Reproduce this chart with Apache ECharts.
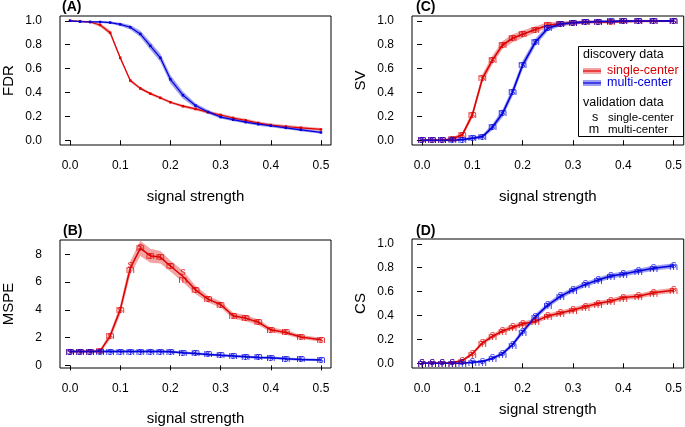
<!DOCTYPE html>
<html>
<head>
<meta charset="utf-8">
<script src="https://cdn.jsdelivr.net/npm/echarts@6/dist/echarts.min.js"></script>
<style>html,body{margin:0;padding:0;background:#fff}#c{width:685px;height:427px}</style>
</head>
<body>
<div id="c"></div>
<script>
// ---- data ----
const xs = [0,0.02,0.04,0.06,0.08,0.1,0.12,0.14,0.16,0.18,0.2,0.225,0.25,0.275,0.3,0.325,0.35,0.375,0.4,0.43,0.46,0.5];
const xTicks = [0,0.1,0.2,0.3,0.4,0.5];
const unitTicks = [0,0.2,0.4,0.6,0.8,1.0];
const mspeTicks = [0,2,4,6,8];

// (A) FDR
const fdrSingle     = [1.0,0.995,0.99,0.965,0.90,0.69,0.50,0.434,0.39,0.355,0.318,0.285,0.262,0.234,0.211,0.186,0.166,0.144,0.127,0.115,0.104,0.09];
const fdrSingleBand = [0.003,0.005,0.008,0.015,0.02,0.018,0.015,0.012,0.011,0.011,0.011,0.012,0.013,0.013,0.013,0.013,0.013,0.013,0.013,0.013,0.013,0.013];
const fdrMulti      = [1.0,0.993,0.99,0.99,0.985,0.97,0.946,0.89,0.79,0.69,0.51,0.377,0.29,0.237,0.194,0.172,0.152,0.135,0.121,0.104,0.087,0.065];
const fdrMultiBand  = [0.003,0.005,0.006,0.008,0.01,0.013,0.018,0.026,0.032,0.034,0.036,0.03,0.02,0.015,0.013,0.013,0.013,0.013,0.013,0.012,0.011,0.01];

// (B) MSPE
const mspeSingle     = [1.0,1.0,1.0,1.03,2.13,4.0,7.0,8.43,7.9,7.78,7.16,6.4,5.44,4.77,4.38,3.57,3.4,3.11,2.56,2.37,2.04,1.84];
const mspeSingleS    = [1.0,1.0,1.0,1.03,2.13,4.0,7.2,8.5,7.9,7.78,7.16,6.7,5.44,4.77,4.38,3.57,3.4,3.11,2.56,2.37,2.04,1.84];
const mspeSingleM    = [1.0,1.0,1.0,1.03,2.13,4.0,6.87,8.43,7.9,7.78,7.16,6.15,5.44,4.77,4.38,3.57,3.4,3.11,2.56,2.37,2.04,1.84];
const mspeSingleBand = [0.06,0.06,0.06,0.12,0.25,0.35,0.5,0.55,0.5,0.45,0.4,0.42,0.3,0.25,0.22,0.22,0.22,0.2,0.18,0.17,0.15,0.14];
const mspeMulti      = [1.0,1.0,1.0,1.0,1.0,1.0,1.0,1.0,1.0,1.0,0.98,0.91,0.86,0.79,0.72,0.67,0.62,0.57,0.55,0.48,0.43,0.38];
const mspeMultiBand  = [0.09,0.09,0.09,0.09,0.09,0.09,0.09,0.09,0.09,0.09,0.09,0.09,0.09,0.09,0.09,0.09,0.09,0.09,0.09,0.09,0.09,0.09];

// (C) SV
const svSingle     = [0,0,0,0.01,0.045,0.214,0.518,0.673,0.797,0.854,0.887,0.927,0.963,0.975,0.983,0.989,0.99,0.99,0.995,0.996,0.997,0.998];
const svSingleBand = [0.008,0.008,0.009,0.012,0.02,0.03,0.036,0.036,0.034,0.033,0.032,0.028,0.024,0.019,0.016,0.014,0.013,0.012,0.011,0.01,0.009,0.008];
const svMulti      = [0,0,0,0,0.005,0.017,0.03,0.11,0.225,0.406,0.631,0.82,0.938,0.972,0.983,0.989,0.994,0.995,0.997,0.998,0.998,0.999];
const svMultiBand  = [0.008,0.008,0.008,0.009,0.01,0.012,0.016,0.025,0.032,0.035,0.036,0.032,0.024,0.017,0.013,0.011,0.01,0.01,0.009,0.009,0.008,0.008];

// (D) CS
const csSingle     = [0,0,0,0.005,0.022,0.08,0.17,0.225,0.27,0.30,0.33,0.35,0.396,0.42,0.445,0.475,0.50,0.52,0.55,0.56,0.59,0.61];
const csSingleBand = [0.006,0.006,0.006,0.008,0.012,0.015,0.018,0.02,0.02,0.02,0.021,0.021,0.021,0.021,0.021,0.021,0.021,0.021,0.021,0.021,0.021,0.021];
const csMulti      = [0,0,0,0,0,0.008,0.014,0.042,0.08,0.157,0.264,0.388,0.486,0.56,0.615,0.66,0.697,0.73,0.747,0.772,0.795,0.817];
const csMultiBand  = [0.006,0.006,0.006,0.006,0.006,0.008,0.01,0.013,0.016,0.019,0.022,0.022,0.022,0.022,0.021,0.021,0.021,0.021,0.021,0.021,0.021,0.021];

// ---- styling ----
const RED = '#dd0000', BLUE = '#0000dd';
const RED_BAND = 'rgba(232,90,90,0.55)', BLUE_BAND = 'rgba(80,80,232,0.55)';
const FONT = '"Liberation Sans", Arial, Helvetica, sans-serif';

const grids = [
  {left:58,  top:16,  width:273, height:129},  // A
  {left:412, top:16,  width:272, height:129},  // C
  {left:58,  top:240, width:273, height:128},  // B
  {left:412, top:239, width:272, height:129}   // D
];
const yNames = ['FDR','SV','MSPE','CS'];
const xNameGaps = [44,44,43,34];
const yRanges = [[-0.04,1.04],[-0.04,1.04],[-0.19,9.03],[-0.04,1.04]];
const yTickSets = [unitTicks, unitTicks, mspeTicks, unitTicks];

const xAxis = grids.map((g,i)=>({
  gridIndex:i, type:'value', min:-0.02, max:0.52,
  name:'signal strength', nameLocation:'middle', nameGap:xNameGaps[i], nameMoveOverlap:false,
  nameTextStyle:{fontSize:15, color:'#000', fontFamily:FONT},
  axisLine:{show:false},
  axisTick:{show:true, inside:false, length:5, customValues:xTicks, lineStyle:{color:'#000', width:1}},
  axisLabel:{customValues:xTicks, formatter:v=>v.toFixed(1), fontSize:12, color:'#000', margin:15, fontFamily:FONT},
  splitLine:{show:false}
}));
const yAxis = grids.map((g,i)=>({
  gridIndex:i, type:'value', min:yRanges[i][0], max:yRanges[i][1],
  name:yNames[i], nameLocation:'middle', nameGap:44, nameMoveOverlap:false,
  nameTextStyle:{fontSize:15, color:'#000', fontFamily:FONT},
  axisLine:{show:false},
  axisTick:{show:true, inside:false, length:5, customValues:yTickSets[i], lineStyle:{color:'#000', width:1}},
  axisLabel:{customValues:yTickSets[i], formatter:v=> i===2 ? String(v) : v.toFixed(1), fontSize:12, color:'#000', margin:18, fontFamily:FONT},
  splitLine:{show:false}
}));

const series = [];
function pairs(arr){ return xs.map((x,k)=>[x, arr[k]]); }
// confidence band drawn as one polygon through the axes' scales
function addBand(idx, mean, hw, color){
  const data = xs.map((x,k)=>[x, mean[k]-hw[k], mean[k]+hw[k]]);
  series.push({type:'custom', xAxisIndex:idx, yAxisIndex:idx, data:data, silent:true, z:1, clip:true,
    encode:{x:0, y:[1,2]},
    renderItem:function(params, api){
      if (params.dataIndex !== 0) return null;
      const upper = data.map(d=>api.coord([d[0], d[2]]));
      const lower = data.map(d=>api.coord([d[0], d[1]])).reverse();
      return {type:'polygon', shape:{points: upper.concat(lower)}, style:{fill:color, stroke:null}};
    }
  });
}
function addLine(idx, mean, color, dots, width){
  series.push({type:'line', xAxisIndex:idx, yAxisIndex:idx, data:pairs(mean),
    symbol: dots ? 'rect' : 'none', symbolSize:2.5, showSymbol:!!dots,
    itemStyle:{color:color}, lineStyle:{color:color, width:width}, silent:true, z:3});
}
function addMarks(idx, vals, ch, color, dy){
  series.push({type:'scatter', xAxisIndex:idx, yAxisIndex:idx, data:pairs(vals),
    symbol:'circle', symbolSize:2, itemStyle:{color:'rgba(0,0,0,0)'}, silent:true, z:4,
    label:{show:true, position:'inside', formatter:ch, color:color, fontSize:11, fontFamily:FONT, offset:[0,dy||0]}});
}

// A
addBand(0, fdrSingle, fdrSingleBand, RED_BAND);
addBand(0, fdrMulti, fdrMultiBand, BLUE_BAND);
addLine(0, fdrSingle, RED, true, 1.2);
addLine(0, fdrMulti, BLUE, true, 1.2);
// C
addBand(1, svSingle, svSingleBand, RED_BAND);
addBand(1, svMulti, svMultiBand, BLUE_BAND);
addLine(1, svSingle, RED, false, 1.6);
addLine(1, svMulti, BLUE, false, 1.6);
addMarks(1, svSingle, 's', RED); addMarks(1, svSingle, 'm', RED);
addMarks(1, svMulti, 's', BLUE); addMarks(1, svMulti, 'm', BLUE);
// B
addBand(2, mspeSingle, mspeSingleBand, RED_BAND);
addBand(2, mspeMulti, mspeMultiBand, BLUE_BAND);
addLine(2, mspeSingle, RED, false, 1.5);
addLine(2, mspeMulti, BLUE, false, 1.5);
addMarks(2, mspeSingleS, 's', RED); addMarks(2, mspeSingleM, 'm', RED);
addMarks(2, mspeMulti, 's', BLUE); addMarks(2, mspeMulti, 'm', BLUE);
// D
addBand(3, csSingle, csSingleBand, RED_BAND);
addBand(3, csMulti, csMultiBand, BLUE_BAND);
addLine(3, csSingle, RED, false, 1.5);
addLine(3, csMulti, BLUE, false, 1.5);
addMarks(3, csSingle, 's', RED, -1); addMarks(3, csSingle, 'm', RED, 1);
addMarks(3, csMulti, 's', BLUE, -1); addMarks(3, csMulti, 'm', BLUE, 1);

const tx = (x,y,text,opt)=>Object.assign({type:'text', x:x, y:y, style:Object.assign({text:text, fill:'#000', fontSize:12.5, fontFamily:FONT, verticalAlign:'middle'}, opt||{})});

const graphic = [
  tx(62, 7, '(A)', {fontSize:14, fontWeight:'bold'}),
  tx(416, 7, '(C)', {fontSize:14, fontWeight:'bold'}),
  tx(63, 231, '(B)', {fontSize:14, fontWeight:'bold'}),
  tx(416, 231, '(D)', {fontSize:14, fontWeight:'bold'}),
  // legend box
  {type:'rect', shape:{x:578.5, y:46.5, width:105, height:90}, style:{fill:'#fff', stroke:'#000', lineWidth:1}, z:10},
  Object.assign(tx(583, 54.5, 'discovery data'), {z:11}),
  {type:'rect', shape:{x:583, y:68, width:18, height:6}, style:{fill:RED_BAND}, z:11},
  {type:'line', shape:{x1:583, y1:71, x2:601, y2:71}, style:{stroke:RED, lineWidth:1.2}, z:11},
  Object.assign(tx(607, 71, 'single-center', {fill:RED}), {z:11}),
  {type:'rect', shape:{x:583, y:80, width:18, height:6}, style:{fill:BLUE_BAND}, z:11},
  {type:'line', shape:{x1:583, y1:83, x2:601, y2:83}, style:{stroke:BLUE, lineWidth:1.2}, z:11},
  Object.assign(tx(607, 83, 'multi-center', {fill:BLUE}), {z:11}),
  Object.assign(tx(583, 103, 'validation data'), {z:11}),
  Object.assign(tx(595, 118, 's', {align:'center'}), {z:11}),
  Object.assign(tx(608, 118, 'single-center', {fontSize:11.5}), {z:11}),
  Object.assign(tx(594, 129.5, 'm', {align:'center'}), {z:11}),
  Object.assign(tx(608, 129.5, 'multi-center', {fontSize:11.5}), {z:11})
];

const chart = echarts.init(document.getElementById('c'), null, {renderer:'canvas'});
chart.setOption({
  animation:false,
  backgroundColor:'#fff',
  textStyle:{fontFamily:FONT},
  grid: grids.map(g=>Object.assign({show:true, borderColor:'#000', borderWidth:1, backgroundColor:'transparent', containLabel:false}, g)),
  xAxis: xAxis,
  yAxis: yAxis,
  series: series,
  graphic: graphic
});
</script>
</body>
</html>
